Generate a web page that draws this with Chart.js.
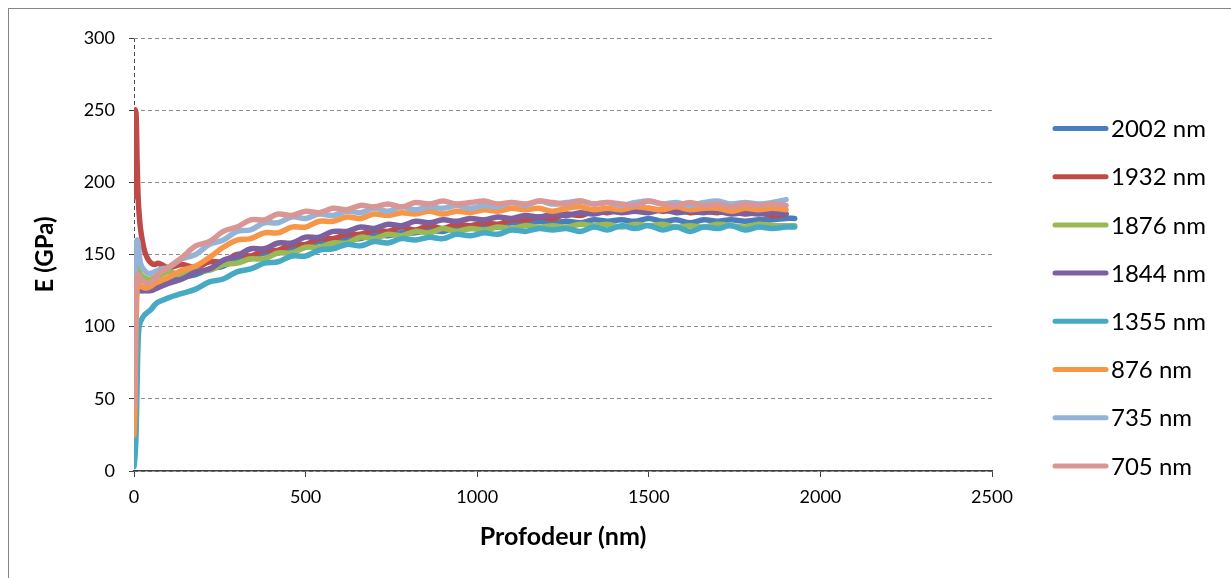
<!DOCTYPE html>
<html>
<head>
<meta charset="utf-8">
<title>E (GPa) vs Profodeur</title>
<script src="https://cdn.jsdelivr.net/npm/chart.js"></script>
<style>
    html, body { margin: 0; padding: 0; background: #fff; }
    canvas { display: block; }
</style>
</head>
<body>
<canvas id="modulus_chart" width="1231" height="578"></canvas>
<script>
    // depth (nm), shared by all curves
    var depth = [0, 3, 6, 9, 12, 15, 20, 30, 40, 50, 60, 70, 80,
        100, 140, 180, 220, 260, 300, 340, 380, 420, 460, 500, 540, 580, 620, 660, 700,
        740, 780, 820, 860, 900, 940, 980, 1020, 1060, 1100, 1140, 1180, 1220, 1260, 1300,
        1340, 1380, 1420, 1460, 1500, 1540, 1580, 1620, 1660, 1700, 1740, 1780, 1820, 1860,
        1900, 1925];

    var labels = ["2002 nm", "1932 nm", "1876 nm", "1844 nm", "1355 nm", "876 nm", "735 nm", "705 nm"];
    var colors = ["#4A7EBB", "#BE4B48", "#98B954", "#7D60A0", "#46AAC5", "#F79646", "#95B3D7", "#D99694"];

    // E (GPa) for each indent
    var e2002 = [120, 128, 127, 126, 126, 125, 125, 125, 125, 126, 127, 128, 129,
        131, 134, 136, 140, 142, 147, 147, 151, 151, 155, 155, 159, 158, 161, 161, 164,
        163, 165, 165, 167, 166, 169, 168, 170, 169, 172, 171, 173, 172, 173, 172,
        174, 173, 174, 173, 175, 173, 174, 172, 174, 173, 174, 173, 174, 174, 175, 175];
    var e1932 = [190, 250, 248, 215, 190, 178, 166, 153, 147, 144, 143, 144, 143,
        141, 143, 141, 145, 145, 150, 149, 153, 153, 157, 157, 161, 161, 164, 164, 167,
        166, 169, 167, 170, 168, 171, 170, 172, 171, 174, 174, 176, 175, 178, 177,
        180, 179, 182, 180, 182, 180, 181, 179, 180, 179, 180, 178, 179, 177, 178, null];
    var e1876 = [125, 140, 143, 142, 140, 138, 136, 134, 133, 133, 134, 135, 136,
        138, 136, 139, 139, 143, 144, 147, 147, 151, 151, 155, 155, 158, 158, 162, 161,
        164, 163, 166, 165, 168, 166, 168, 167, 169, 168, 170, 169, 170, 169, 171,
        170, 171, 169, 171, 170, 171, 169, 170, 169, 171, 170, 169, 171, 170, 170, 170];
    var e1844 = [122, 126, 128, 128, 127, 126, 125, 125, 125, 125, 126, 127, 128,
        130, 133, 138, 140, 146, 149, 154, 154, 158, 158, 162, 162, 166, 166, 169, 168,
        171, 170, 173, 172, 174, 173, 175, 174, 176, 175, 177, 176, 178, 177, 179,
        178, 180, 179, 180, 179, 181, 179, 180, 179, 180, 178, 179, 178, 179, 178, null];
    var e1355 = [3, 10, 25, 60, 90, 100, 104, 108, 110, 112, 115, 117, 118,
        120, 123, 126, 131, 133, 138, 140, 144, 145, 149, 149, 153, 154, 157, 156, 159,
        158, 161, 160, 162, 161, 164, 163, 165, 164, 167, 166, 168, 167, 168, 166,
        169, 167, 170, 168, 170, 167, 169, 166, 169, 168, 170, 167, 169, 168, 169, 169];
    var e876 = [25, 45, 100, 125, 130, 129, 128, 127, 127, 128, 130, 131, 132,
        134, 139, 142, 148, 155, 160, 161, 165, 165, 169, 169, 173, 173, 176, 175, 178,
        177, 179, 178, 180, 178, 180, 179, 181, 180, 182, 181, 182, 180, 182, 183,
        181, 182, 181, 183, 182, 181, 183, 181, 182, 182, 180, 182, 181, 182, 181, null];
    var e735 = [110, 140, 155, 160, 158, 150, 143, 139, 137, 137, 138, 139, 140,
        141, 147, 150, 157, 160, 166, 167, 172, 172, 176, 175, 178, 177, 180, 179, 182,
        180, 183, 181, 183, 182, 184, 182, 184, 183, 186, 184, 187, 185, 186, 187,
        185, 186, 184, 186, 187, 185, 186, 184, 186, 187, 185, 186, 185, 186, 188, null];
    var e705 = [45, 80, 120, 134, 136, 135, 133, 131, 130, 131, 133, 136, 138,
        141, 148, 156, 159, 166, 169, 174, 174, 178, 177, 180, 179, 182, 181, 184, 183,
        185, 183, 186, 185, 187, 185, 186, 187, 185, 186, 185, 187, 186, 185, 187,
        185, 186, 185, 184, 187, 185, 184, 186, 184, 185, 183, 185, 184, 185, 184, null];

    var series = [e2002, e1932, e1876, e1844, e1355, e876, e735, e705];

    var xTicks = [0, 500, 1000, 1500, 2000, 2500];
    var yTicks = [0, 50, 100, 150, 200, 250, 300];

    function points(values) {
        var pts = [];
        for (var i = 0; i < depth.length; i++) {
            if (values[i] !== null) pts.push({x: depth[i], y: values[i]});
        }
        return pts;
    }

    var datasets = series.map(function(values, i) {
        return {
            label: labels[i],
            data: points(values),
            borderColor: colors[i],
            backgroundColor: colors[i],
            borderWidth: 5.5,
            borderJoinStyle: 'round',
            borderCapStyle: 'round',
            pointRadius: 0,
            tension: 0.35,
            // later curves sit on top, as in the spreadsheet
            order: series.length - 1 - i
        };
    });

    // grey frame and white background
    var framePlugin = {
        id: 'frame',
        beforeDraw: function(chart) {
            var ctx = chart.ctx;
            ctx.save();
            ctx.fillStyle = '#fff';
            ctx.fillRect(0, 0, chart.width, chart.height);
            ctx.strokeStyle = '#868686';
            ctx.lineWidth = 1;
            ctx.strokeRect(8.5, 8.5, chart.width, chart.height);
            ctx.restore();
        }
    };

    // legend on the right: a thick line sample and the label
    var legendPlugin = {
        id: 'sideLegend',
        afterDraw: function(chart) {
            var ctx = chart.ctx;
            ctx.save();
            ctx.font = '24px Lato';
            ctx.textBaseline = 'middle';
            ctx.lineCap = 'round';
            chart.data.datasets.forEach(function(ds, i) {
                var y = 128.5 + i * 48.2;
                ctx.strokeStyle = ds.borderColor;
                ctx.lineWidth = 5;
                ctx.beginPath();
                ctx.moveTo(1055, y);
                ctx.lineTo(1106, y);
                ctx.stroke();
                ctx.fillStyle = '#000';
                ctx.fillText(ds.label, 1111, y + 1);
            });
            ctx.restore();
        }
    };

    var ctx = document.getElementById("modulus_chart").getContext("2d");
    new Chart(ctx, {
        type: 'line',
        data: {datasets: datasets},
        plugins: [framePlugin, legendPlugin],
        options: {
            responsive: false,
            animation: false,
            layout: {padding: {left: 0, top: 38, right: 239, bottom: 0}},
            plugins: {legend: {display: false}, tooltip: {enabled: false}},
            scales: {
                x: {
                    type: 'linear',
                    min: 0,
                    max: 2500,
                    afterBuildTicks: function(scale) {
                        scale.ticks = xTicks.map(function(v) { return {value: v}; });
                    },
                    afterFit: function(scale) { scale.height = 107; },
                    ticks: {
                        color: '#000',
                        font: {family: 'Lato', size: 18},
                        padding: 9,
                        maxRotation: 0,
                        callback: function(v) { return String(v); }
                    },
                    grid: {
                        color: function(c) { return c.tick && c.tick.value === 0 ? '#4d4d4d' : 'rgba(0,0,0,0)'; },
                        tickColor: '#404040',
                        tickWidth: 1,
                        tickLength: 6
                    },
                    border: {display: true, color: '#404040', width: 1.5, dash: [4, 3]},
                    title: {
                        display: true,
                        text: 'Profodeur (nm)',
                        color: '#000',
                        font: {family: 'Lato', size: 25, weight: 'bold'},
                        padding: {top: 0, bottom: 26}
                    }
                },
                y: {
                    type: 'linear',
                    min: 0,
                    max: 300,
                    afterBuildTicks: function(scale) {
                        scale.ticks = yTicks.map(function(v) { return {value: v}; });
                    },
                    afterFit: function(scale) { scale.width = 134; },
                    ticks: {color: '#000', font: {family: 'Lato', size: 18}, padding: 14},
                    grid: {color: '#8c8c8c', tickColor: '#404040', tickWidth: 1, tickLength: 5},
                    border: {display: false, dash: [4, 3]},
                    title: {
                        display: true,
                        text: 'E (GPa)',
                        color: '#000',
                        font: {family: 'Lato', size: 24, weight: 'bold'},
                        padding: {top: 31, bottom: 0}
                    }
                }
            }
        }
    });
</script>
</body>
</html>
